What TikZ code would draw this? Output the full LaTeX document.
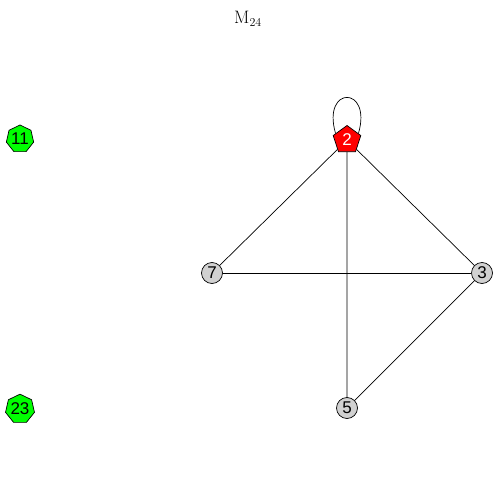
\documentclass[tikz,border=0pt]{standalone}
\usepackage{fontspec}
\newfontfamily\labelfont{Liberation Sans}
\usepackage{tikz}
\usetikzlibrary{arrows.meta,positioning,shapes.geometric}

\begin{document}
\begin{tikzpicture}[x=1pt,y=-1pt,line width=0.7pt]
\tikzstyle{vert}=[circle,draw,fill=black!18,inner sep=0pt,minimum size=21pt,font=\labelfont\fontsize{17}{17}\selectfont]
\tikzstyle{root}=[regular polygon,regular polygon sides=5,draw,fill=red,text=white,inner sep=0pt,minimum size=29pt,font=\labelfont\fontsize{17}{17}\selectfont]
\tikzstyle{lone}=[regular polygon,regular polygon sides=7,draw,fill=green,inner sep=0pt,minimum size=28pt,font=\labelfont\fontsize{17}{17}\selectfont]
\useasboundingbox (0,0) rectangle (500,500);
\node (title) at (248,19) {\fontsize{18}{18}\selectfont M$_{24}$};
\node[root] (n2) at (347,140) {2};
\node[vert] (n7) at (212,273) {7};
\node[vert] (n3) at (482,273) {3};
\node[vert] (n5) at (347,408) {5};
\node[lone] (n11) at (20,139) {11};
\node[lone] (n23) at (20,409) {23};
\draw (n2)--(n7);
\draw (n2)--(n3);
\draw (n2)--(n5);
\draw (n7)--(n3);
\draw (n3)--(n5);
\draw (n2.150) .. controls +(-14,-48) and +(14,-48) .. (n2.30);
\end{tikzpicture}
\end{document}
